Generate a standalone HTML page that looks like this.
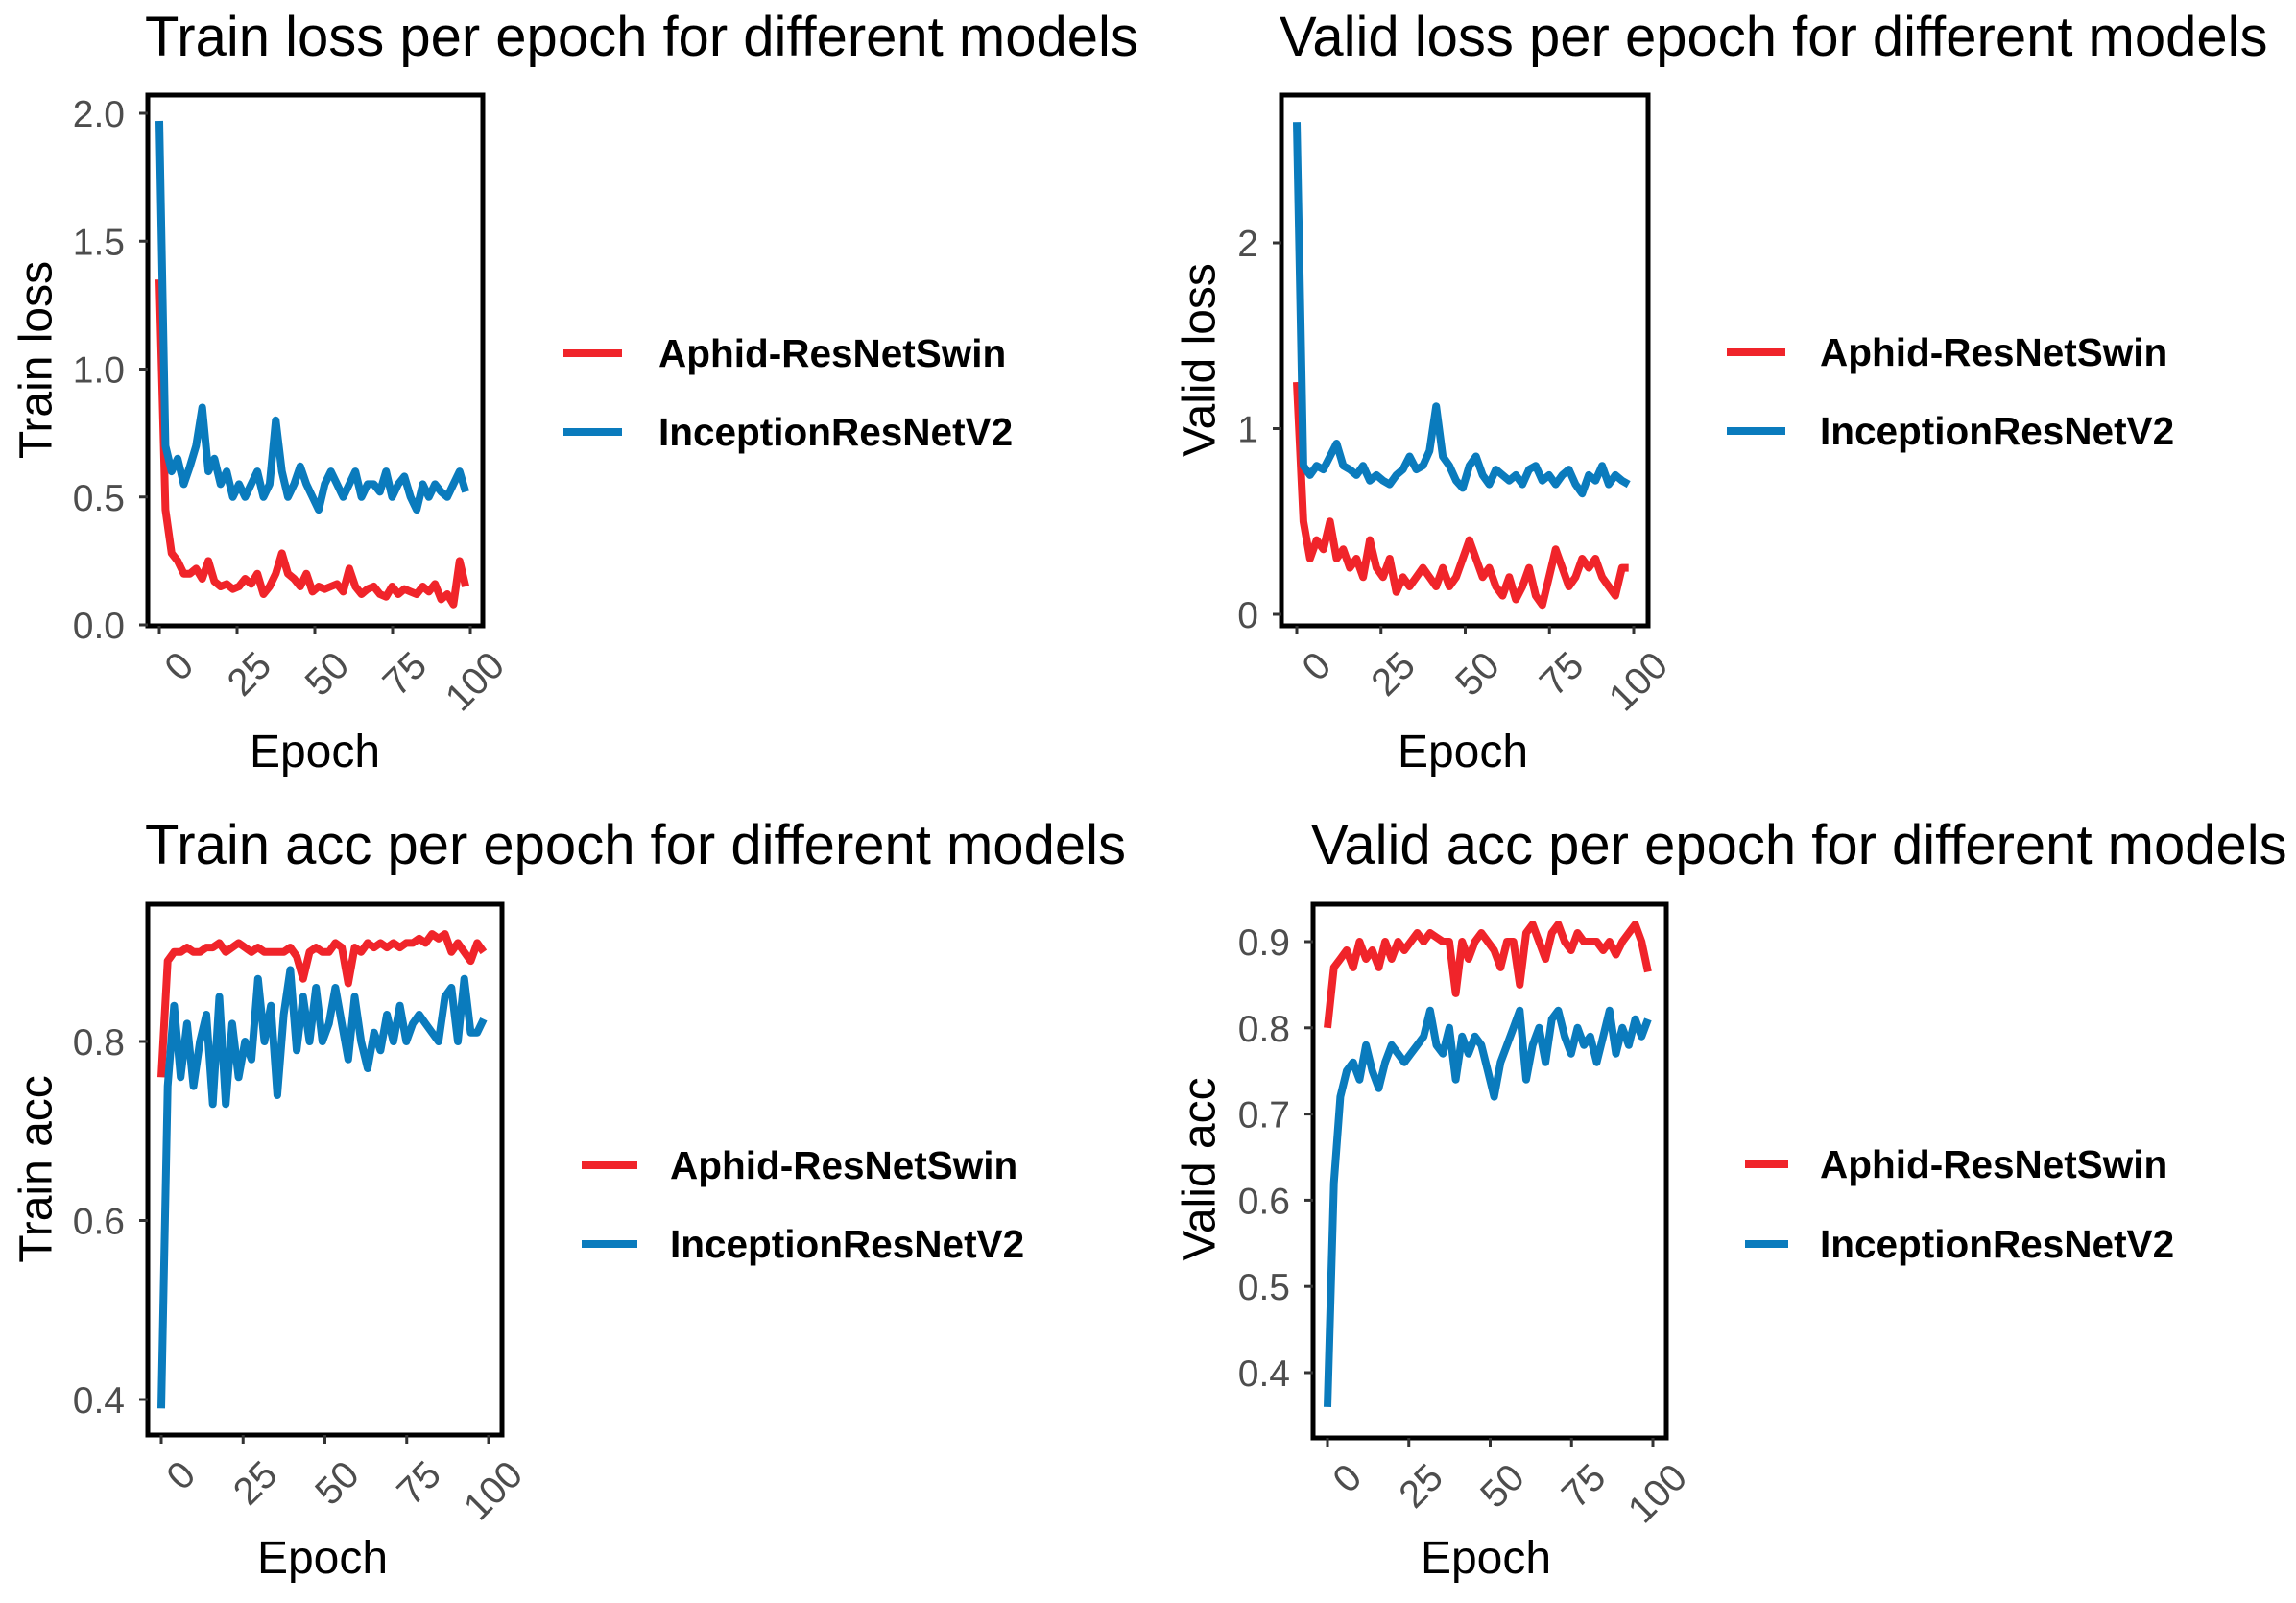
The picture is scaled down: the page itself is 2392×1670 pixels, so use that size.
<!DOCTYPE html>
<html><head><meta charset="utf-8"><style>
body{margin:0;background:#fff}
svg{display:block}
text{font-family:"Liberation Sans",Arial,sans-serif}
</style></head><body>
<svg id="fig" width="2392" height="1670" viewBox="0 0 2392 1670" xmlns="http://www.w3.org/2000/svg"></svg>
<script>
const epochTicks = [0,25,50,75,100];
const seriesNames = ["Aphid-ResNetSwin","InceptionResNetV2"];
const trainLossRed = [1.35,0.45,0.28,0.25,0.2,0.2,0.22,0.18,0.25,0.17,0.15,0.16,0.14,0.15,0.18,0.16,0.2,0.12,0.15,0.2,0.28,0.2,0.18,0.15,0.2,0.13,0.15,0.14,0.15,0.16,0.13,0.22,0.15,0.12,0.14,0.15,0.12,0.11,0.15,0.12,0.14,0.13,0.12,0.15,0.13,0.16,0.1,0.12,0.08,0.25,0.15];
const trainLossBlue = [1.97,0.7,0.6,0.65,0.55,0.62,0.7,0.85,0.6,0.65,0.55,0.6,0.5,0.55,0.5,0.55,0.6,0.5,0.55,0.8,0.6,0.5,0.55,0.62,0.55,0.5,0.45,0.55,0.6,0.55,0.5,0.55,0.6,0.5,0.55,0.55,0.52,0.6,0.5,0.55,0.58,0.5,0.45,0.55,0.5,0.55,0.52,0.5,0.55,0.6,0.52];
const validLossRed = [1.25,0.5,0.3,0.4,0.35,0.5,0.3,0.35,0.25,0.3,0.2,0.4,0.25,0.2,0.3,0.12,0.2,0.15,0.2,0.25,0.2,0.15,0.25,0.15,0.2,0.3,0.4,0.3,0.2,0.25,0.15,0.1,0.2,0.08,0.15,0.25,0.1,0.05,0.2,0.35,0.25,0.15,0.2,0.3,0.25,0.3,0.2,0.15,0.1,0.25,0.25];
const validLossBlue = [2.65,0.8,0.75,0.8,0.78,0.85,0.92,0.8,0.78,0.75,0.8,0.72,0.75,0.72,0.7,0.75,0.78,0.85,0.78,0.8,0.88,1.12,0.85,0.8,0.72,0.68,0.8,0.85,0.75,0.7,0.78,0.75,0.72,0.75,0.7,0.78,0.8,0.72,0.75,0.7,0.75,0.78,0.7,0.65,0.75,0.72,0.8,0.7,0.75,0.72,0.7];
const trainAccRed = [0.76,0.89,0.9,0.9,0.905,0.9,0.9,0.905,0.905,0.91,0.9,0.905,0.91,0.905,0.9,0.905,0.9,0.9,0.9,0.9,0.905,0.895,0.87,0.9,0.905,0.9,0.9,0.91,0.905,0.865,0.905,0.9,0.91,0.905,0.91,0.905,0.91,0.905,0.91,0.91,0.915,0.91,0.92,0.915,0.92,0.9,0.91,0.9,0.89,0.91,0.9];
const trainAccBlue = [0.39,0.75,0.84,0.76,0.82,0.75,0.8,0.83,0.73,0.85,0.73,0.82,0.76,0.8,0.78,0.87,0.8,0.84,0.74,0.83,0.88,0.79,0.85,0.8,0.86,0.8,0.82,0.86,0.82,0.78,0.85,0.8,0.77,0.81,0.79,0.83,0.8,0.84,0.8,0.82,0.83,0.82,0.81,0.8,0.85,0.86,0.8,0.87,0.81,0.81,0.825];
const validAccRed = [0.8,0.87,0.88,0.89,0.87,0.9,0.88,0.89,0.87,0.9,0.88,0.9,0.89,0.9,0.91,0.9,0.91,0.905,0.9,0.9,0.84,0.9,0.88,0.9,0.91,0.9,0.89,0.87,0.9,0.9,0.85,0.91,0.92,0.9,0.88,0.91,0.92,0.9,0.89,0.91,0.9,0.9,0.9,0.89,0.9,0.885,0.9,0.91,0.92,0.9,0.865];
const validAccBlue = [0.36,0.62,0.72,0.75,0.76,0.74,0.78,0.75,0.73,0.76,0.78,0.77,0.76,0.77,0.78,0.79,0.82,0.78,0.77,0.8,0.74,0.79,0.77,0.79,0.78,0.75,0.72,0.76,0.78,0.8,0.82,0.74,0.78,0.8,0.76,0.81,0.82,0.79,0.77,0.8,0.78,0.79,0.76,0.79,0.82,0.77,0.8,0.78,0.81,0.79,0.81];
const trainLossTicks = ["0.0","0.5","1.0","1.5","2.0"];
const validLossTicks = ["0","1","2"];
const trainAccTicks = ["0.4","0.6","0.8"];
const validAccTicks = ["0.4","0.5","0.6","0.7","0.8","0.9"];

const NS="http://www.w3.org/2000/svg";
const svg=document.getElementById('fig');
function mk(tag,attrs,parent,txt){const e=document.createElementNS(NS,tag);for(const k in attrs)e.setAttribute(k,attrs[k]);if(txt!==undefined)e.textContent=txt;(parent||svg).appendChild(e);return e;}

const panels=[
 {key:"train-loss",title:"Train loss per epoch for different models",ylab:"Train loss",red:trainLossRed,blue:trainLossBlue,ticks:trainLossTicks,
  box:[154,99,503,652],x0:166,x100:490,yv:[0,2],yp:[651,118],titleX:151,titleY:58,ylabX:38,ylabY:375,epX:328,epY:799,legLine:[587,648],legText:686,legY:[368,450]},
 {key:"valid-loss",title:"Valid loss per epoch for different models",ylab:"Valid loss",red:validLossRed,blue:validLossBlue,ticks:validLossTicks,
  box:[1335,99,1717,652],x0:1351,x100:1702,yv:[0,2],yp:[640,253],titleX:1333,titleY:58,ylabX:1250,ylabY:375,epX:1524,epY:799,legLine:[1799,1860],legText:1896,legY:[367,449]},
 {key:"train-acc",title:"Train acc per epoch for different models",ylab:"Train acc",red:trainAccRed,blue:trainAccBlue,ticks:trainAccTicks,
  box:[154,942,523,1495],x0:168,x100:509,yv:[0.4,0.8],yp:[1458,1085],titleX:151,titleY:900,ylabX:38,ylabY:1218,epX:336,epY:1639,legLine:[606,664],legText:698,legY:[1214,1296]},
 {key:"valid-acc",title:"Valid acc per epoch for different models",ylab:"Valid acc",red:validAccRed,blue:validAccBlue,ticks:validAccTicks,
  box:[1368,942,1736,1498],x0:1383,x100:1722,yv:[0.4,0.9],yp:[1430,981],titleX:1366,titleY:900,ylabX:1250,ylabY:1218,epX:1548,epY:1639,legLine:[1818,1863],legText:1896,legY:[1213,1296]}
];
const colors=["#f0242a","#0a7bbd"];

panels.forEach(p=>{
  const g=mk('g',{});
  
  
  const xs=v=>p.x0+(v/100)*(p.x100-p.x0);
  const ys=v=>p.yp[0]+(v-p.yv[0])/(p.yv[1]-p.yv[0])*(p.yp[1]-p.yp[0]);
  const t=mk('text',{x:p.titleX,y:p.titleY,'font-size':58,fill:'#000'},g,p.title);
  
  
  [p.red,p.blue].forEach((arr,si)=>{
    const dx=100/(arr.length-1);
    const pts=arr.map((v,i)=>xs(i*dx*0.985).toFixed(1)+','+ys(v).toFixed(1)).join(' ');
    const l=mk('polyline',{points:pts,fill:'none',stroke:colors[si],'stroke-width':8,'stroke-linejoin':'round'},g);
    
    
  });
  const [bx1,by1,bx2,by2]=p.box;
  const b=mk('rect',{x:bx1,y:by1,width:bx2-bx1,height:by2-by1,fill:'none',stroke:'#000','stroke-width':5},g);
  
  
  p.ticks.forEach(tk=>{
    const y=ys(parseFloat(tk));
    mk('line',{x1:bx1-9,x2:bx1,y1:y,y2:y,stroke:'#333','stroke-width':3},g);
    const tl=mk('text',{x:bx1-24,y:y+14,'text-anchor':'end','font-size':39,fill:'#4d4d4d'},g,tk);
    
    
  });
  epochTicks.forEach(tk=>{
    const x=xs(tk);
    mk('line',{x1:x,x2:x,y1:by2,y2:by2+9,stroke:'#333','stroke-width':3},g);
    const tl=mk('text',{x:x+18,y:by2+24,'text-anchor':'end','font-size':40,fill:'#4d4d4d',transform:`rotate(-45 ${x+18} ${by2+24})`,'dominant-baseline':'hanging'},g,String(tk));
    
    
  });
  const yl=mk('text',{x:p.ylabX,y:p.ylabY,'text-anchor':'middle','font-size':48,fill:'#000',transform:`rotate(-90 ${p.ylabX} ${p.ylabY})`,'dominant-baseline':'central'},g,p.ylab);
  
  
  const xl=mk('text',{x:p.epX,y:p.epY,'text-anchor':'middle','font-size':48,fill:'#000'},g,'Epoch');
  
  
  seriesNames.forEach((nm,si)=>{
    const lg=mk('g',{},g);
    
    
    const y=p.legY[si];
    mk('line',{x1:p.legLine[0],x2:p.legLine[1],y1:y,y2:y,stroke:colors[si],'stroke-width':8},lg);
    mk('text',{x:p.legText,y:y+14,'font-size':40.5,'font-weight':'bold',fill:'#000'},lg,nm);
  });
});
</script>
</body></html>
